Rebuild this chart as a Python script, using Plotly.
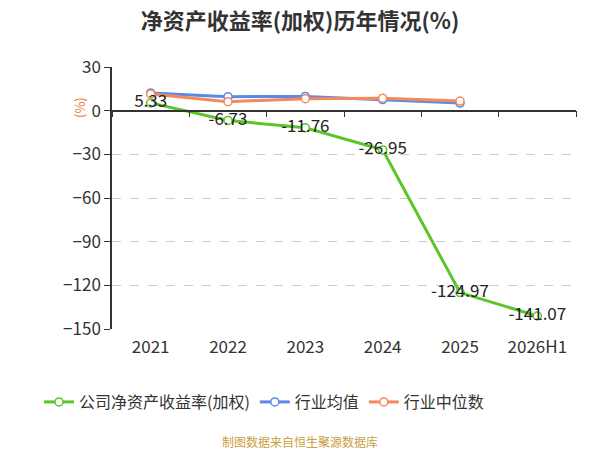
import plotly.graph_objects as go

# categories and values
YEARS = ['2021', '2022', '2023', '2024', '2025', '2026H1']
COMPANY_ROE = [5.33, -6.73, -11.76, -26.95, -124.97, -141.07]
INDUSTRY_MEAN = [12.2, 9.6, 9.8, 7.6, 5.2]
INDUSTRY_MEDIAN = [11.5, 6.2, 8.2, 8.6, 6.6]
Y_TICKS = [30, 0, -30, -60, -90, -120, -150]

GREEN = '#5cc52a'
BLUE = '#5b8ae6'
ORANGE = '#f5895e'
FONT = 'Noto Sans CJK SC'

Y_MIN, Y_MAX = -150, 30

# the page body adds an 8px offset, so the figure is drawn 8px smaller
W, H = 592, 442
L, R, T, B = 104, 24, 59, 121

fig = go.Figure()

def add_line(x, y, name, color, rank, text=None):
    fig.add_trace(
        go.Scatter(
            x = x,
            y = y,
            name = name,
            mode = 'lines+markers+text' if text else 'lines+markers',
            line = {'color': color, 'width': 3},
            marker = {'symbol': 'circle', 'size': 8, 'color': 'white',
                      'line': {'color': color, 'width': 1.5}},
            text = text,
            textposition = 'middle center',
            textfont = {'size': 17, 'color': '#222', 'family': FONT},
            cliponaxis = False,
            legendrank = rank,
        )
    )

# industry lines first so the company line and its labels sit on top
add_line(YEARS[:5], INDUSTRY_MEAN, '行业均值', BLUE, 2)
add_line(YEARS[:5], INDUSTRY_MEDIAN, '行业中位数', ORANGE, 3)
add_line(YEARS, COMPANY_ROE, '公司净资产收益率(加权)', GREEN, 1,
         text=[f'{v:.2f}' for v in COMPANY_ROE])

# dummy trace on the overlay axis so the zero-line ticks get drawn
fig.add_trace(
    go.Scatter(x=YEARS, y=[None] * len(YEARS), xaxis='x2', yaxis='y',
               showlegend=False, hoverinfo='skip')
)

zero_pos = (0 - Y_MIN) / (Y_MAX - Y_MIN)
plot_w = W - L - R
plot_h = H - T - B

fig.update_layout(
    width = W,
    height = H,
    plot_bgcolor = 'white',
    paper_bgcolor = 'white',
    font = {'family': FONT, 'size': 16, 'color': '#333'},
    margin = {'l': L, 'r': R, 't': T, 'b': B, 'autoexpand': False},
    title = {
        'text': '<b>净资产收益率(加权)历年情况(%)</b>',
        'xref': 'container', 'yref': 'container',
        'x': 292 / W, 'xanchor': 'center',
        'y': 1 - 13 / H, 'yanchor': 'middle',
        'font': {'size': 22, 'color': '#333', 'family': FONT},
    },
    xaxis = {
        'type': 'category',
        'categoryorder': 'array',
        'categoryarray': YEARS,
        'range': [-0.5, 5.5],
        'showgrid': False,
        'showline': False,
        'ticks': '',
        'tickfont': {'size': 17, 'color': '#333'},
        'ticklabelstandoff': 6,
    },
    xaxis2 = {
        'type': 'category',
        'categoryorder': 'array',
        'categoryarray': YEARS,
        'range': [-0.5, 5.5],
        'overlaying': 'x',
        'anchor': 'free',
        'position': zero_pos,
        'showline': True,
        'linecolor': '#333',
        'linewidth': 1.5,
        'ticks': 'outside',
        'tickson': 'boundaries',
        'ticklen': 6,
        'tickcolor': '#333',
        'showticklabels': False,
        'showgrid': False,
    },
    yaxis = {
        'anchor': 'x',
        'range': [Y_MIN, Y_MAX],
        'tickvals': Y_TICKS,
        'showline': True,
        'linecolor': '#333',
        'linewidth': 1.5,
        'ticks': 'outside',
        'ticklen': 6,
        'tickcolor': '#333',
        'showgrid': True,
        'gridcolor': '#cccccc',
        'griddash': 'dash',
        'gridwidth': 1,
        'zeroline': False,
        'tickfont': {'size': 17, 'color': '#333'},
    },
    legend = {
        'orientation': 'h',
        'xref': 'container', 'yref': 'container',
        'x': 256 / W, 'xanchor': 'center',
        'y': 1 - 394 / H, 'yanchor': 'middle',
        'font': {'size': 16, 'color': '#333'},
    },
    annotations = [
        {
            'text': '(%)', 'textangle': -90,
            'xref': 'paper', 'yref': 'paper',
            'x': (60 - L) / plot_w, 'y': (H - B - 87) / plot_h,
            'showarrow': False,
            'font': {'size': 13, 'color': '#f0703c'},
        },
        {
            'text': '制图数据来自恒生聚源数据库',
            'xref': 'paper', 'yref': 'paper',
            'x': (292 - L) / plot_w, 'y': (H - B - 433) / plot_h,
            'xanchor': 'center', 'yanchor': 'middle',
            'showarrow': False,
            'font': {'size': 12, 'color': '#c9a043'},
        },
    ],
)

fig.write_html('out.html')
